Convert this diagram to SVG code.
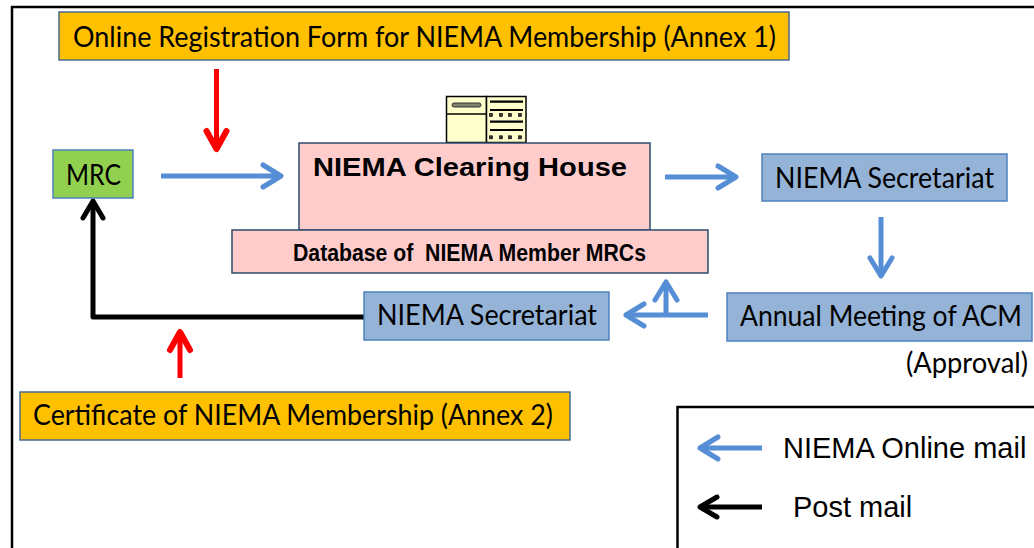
<svg xmlns="http://www.w3.org/2000/svg" width="1034" height="548" viewBox="0 0 1034 548">
<style>
  .orange{fill:#FFC000;stroke:#4A6A8C;stroke-width:1.5}
  .green{fill:#92D050;stroke:#4F81BD;stroke-width:1.5}
  .blue{fill:#95B3D7;stroke:#4F81BD;stroke-width:1.5}
  .pink{fill:#FFCCCC;stroke:#2E4B6F;stroke-width:1.5}
  .cal{font-family:Lato,"Liberation Sans",sans-serif;font-size:29px;fill:#000}
  .bold{font-family:"Liberation Sans",Arial,sans-serif;font-weight:bold;fill:#000}
  .arial{font-family:"Liberation Sans",Arial,sans-serif;font-size:29px;fill:#000}
  .ab{fill:none;stroke:#558ED5;stroke-width:5}
  .ar{fill:none;stroke:#FF0000;stroke-width:5}
  .ak{fill:none;stroke:#000;stroke-width:5}
  .icon{fill:#FFFFCC;stroke:#000;stroke-width:1.5}
</style>
<defs>
  <marker id="hb" markerUnits="userSpaceOnUse" viewBox="-24 -15 28 30" refX="0" refY="0" markerWidth="28" markerHeight="30" orient="auto">
    <path d="M-18,-11 L0,0 L-18,11" fill="none" stroke="#558ED5" stroke-width="5" stroke-linecap="round" stroke-linejoin="round"/>
  </marker>
  <marker id="hr" markerUnits="userSpaceOnUse" viewBox="-24 -15 28 30" refX="0" refY="0" markerWidth="28" markerHeight="30" orient="auto">
    <path d="M-18,-10 L0,0 L-18,10" fill="none" stroke="#FF0000" stroke-width="6" stroke-linecap="round" stroke-linejoin="round"/>
  </marker>
  <marker id="hk" markerUnits="userSpaceOnUse" viewBox="-24 -15 28 30" refX="0" refY="0" markerWidth="28" markerHeight="30" orient="auto">
    <path d="M-17,-10 L0,0 L-17,10" fill="none" stroke="#000" stroke-width="5" stroke-linecap="round" stroke-linejoin="round"/>
  </marker>
</defs>
<rect width="1034" height="548" fill="#fff"/>
<rect id="frame" x="12" y="7" width="1060" height="580" fill="none" stroke="#000" stroke-width="2.5"/>

<g id="connectors">
  <line class="ar" x1="216.5" y1="69" x2="216.5" y2="149" marker-end="url(#hr)"/>
  <line class="ab" x1="161" y1="176" x2="281" y2="176" marker-end="url(#hb)"/>
  <line class="ab" x1="665" y1="177" x2="736" y2="177" marker-end="url(#hb)"/>
  <line class="ab" x1="881" y1="217" x2="881" y2="276" marker-end="url(#hb)"/>
  <line class="ab" x1="708" y1="315" x2="626" y2="315" marker-end="url(#hb)"/>
  <line class="ab" x1="666" y1="315" x2="666" y2="282" marker-end="url(#hb)"/>
  <path class="ak" d="M365,317 L93,317 L93,201" stroke-linejoin="round" marker-end="url(#hk)"/>
  <line class="ar" x1="180" y1="378" x2="180" y2="332" marker-end="url(#hr)"/>
</g>

<g id="reg-form">
  <rect class="orange" x="59" y="12" width="730" height="48"/>
  <text class="cal" x="73" y="47" textLength="703" lengthAdjust="spacingAndGlyphs">Online Registration Form for NIEMA Membership (Annex 1)</text>
</g>

<g id="mrc">
  <rect class="green" x="53" y="150" width="80" height="48"/>
  <text class="cal" x="66" y="185" textLength="55" lengthAdjust="spacingAndGlyphs">MRC</text>
</g>

<g id="server-icon">
  <rect class="icon" x="446.5" y="96.5" width="40" height="46"/>
  <line x1="446.5" y1="114" x2="486.5" y2="114" stroke="#000" stroke-width="1.5"/>
  <rect x="452" y="103" width="29" height="4" rx="2" fill="#808070" stroke="#333" stroke-width="1"/>
  <rect class="icon" x="486.5" y="96.5" width="39.5" height="46"/>
  <g stroke="#000" stroke-width="2.2">
    <line x1="490" y1="101.7" x2="523" y2="101.7"/>
    <line x1="490" y1="110" x2="523" y2="110"/>
    <line x1="490" y1="121.7" x2="523" y2="121.7"/>
    <line x1="490" y1="130" x2="523" y2="130"/>
  </g>
  <g fill="#333" stroke="#000" stroke-width="0.6">
    <rect x="489.5" y="113.5" width="3" height="3"/>
    <rect x="499.5" y="113.5" width="3" height="3"/>
    <rect x="508.5" y="113.5" width="3" height="3"/>
    <rect x="518.5" y="113.5" width="3" height="3"/>
    <rect x="489.5" y="135.8" width="3" height="3"/>
    <rect x="499.5" y="135.8" width="3" height="3"/>
    <rect x="508.5" y="135.8" width="3" height="3"/>
    <rect x="518.5" y="135.8" width="3" height="3"/>
  </g>
</g>

<g id="clearing-house">
  <rect class="pink" x="299" y="143" width="351" height="87"/>
  <text class="bold" x="313" y="176" font-size="26" textLength="314" lengthAdjust="spacingAndGlyphs">NIEMA Clearing House</text>
</g>

<g id="database">
  <rect class="pink" x="232" y="230" width="476" height="43"/>
  <text class="bold" x="293" y="261" font-size="24" textLength="353" lengthAdjust="spacingAndGlyphs" xml:space="preserve" style="white-space:pre">Database of  NIEMA Member MRCs</text>
</g>

<g id="secretariat-top">
  <rect class="blue" x="762" y="154" width="245" height="47"/>
  <text class="cal" x="775" y="188" textLength="219" lengthAdjust="spacingAndGlyphs">NIEMA Secretariat</text>
</g>

<g id="acm">
  <rect class="blue" x="727" y="293" width="305" height="48"/>
  <text class="cal" x="740" y="326" font-size="27" textLength="282" lengthAdjust="spacingAndGlyphs">Annual Meeting of ACM</text>
  <text class="cal" x="906" y="373" textLength="122" lengthAdjust="spacingAndGlyphs">(Approval)</text>
</g>

<g id="secretariat-bottom">
  <rect class="blue" x="364" y="292" width="245" height="48"/>
  <text class="cal" x="377" y="325" textLength="220" lengthAdjust="spacingAndGlyphs">NIEMA Secretariat</text>
</g>

<g id="certificate">
  <rect class="orange" x="20" y="392" width="550" height="48"/>
  <text class="cal" x="33" y="425" textLength="520" lengthAdjust="spacingAndGlyphs">Certificate of NIEMA Membership (Annex 2)</text>
</g>

<g id="legend">
  <rect x="677.5" y="407" width="400" height="200" fill="#fff" stroke="#000" stroke-width="2.5"/>
  <line class="ab" x1="762" y1="448" x2="700" y2="448" marker-end="url(#hb)"/>
  <text class="arial" x="783" y="458">NIEMA Online mail</text>
  <line class="ak" x1="762" y1="507" x2="700" y2="507" marker-end="url(#hk)"/>
  <text class="arial" x="793" y="517">Post mail</text>
</g>
</svg>
